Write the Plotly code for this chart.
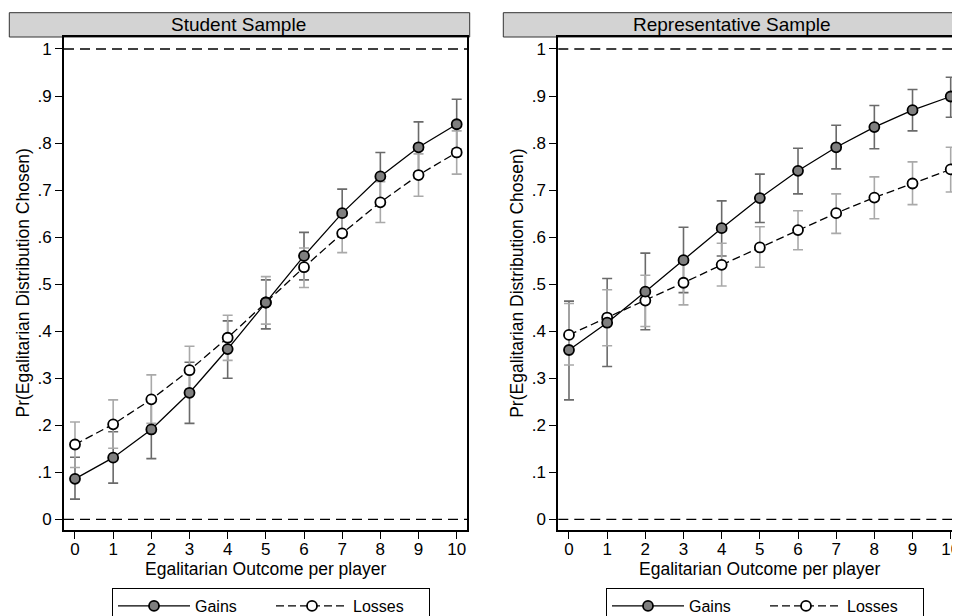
import plotly.graph_objects as go

# ---------------- data ----------------
outcome = [0, 1, 2, 3, 4, 5, 6, 7, 8, 9, 10]

panel_titles = ["Student Sample", "Representative Sample"]
series_names = ["Gains", "Losses"]

student_gains = [0.086, 0.131, 0.191, 0.269, 0.362, 0.461, 0.560, 0.651, 0.729, 0.791, 0.840]
student_gains_lo = [0.043, 0.077, 0.129, 0.204, 0.300, 0.405, 0.509, 0.601, 0.678, 0.737, 0.787]
student_gains_hi = [0.132, 0.186, 0.253, 0.334, 0.422, 0.509, 0.610, 0.702, 0.780, 0.845, 0.893]

student_losses = [0.159, 0.202, 0.255, 0.317, 0.386, 0.461, 0.536, 0.608, 0.674, 0.732, 0.780]
student_losses_lo = [0.110, 0.151, 0.204, 0.266, 0.338, 0.415, 0.493, 0.567, 0.631, 0.687, 0.734]
student_losses_hi = [0.207, 0.254, 0.307, 0.368, 0.434, 0.516, 0.577, 0.650, 0.718, 0.777, 0.826]

rep_gains = [0.360, 0.418, 0.484, 0.551, 0.619, 0.683, 0.741, 0.791, 0.834, 0.870, 0.899]
rep_gains_lo = [0.254, 0.325, 0.403, 0.482, 0.560, 0.631, 0.692, 0.745, 0.788, 0.826, 0.855]
rep_gains_hi = [0.464, 0.512, 0.566, 0.621, 0.677, 0.734, 0.789, 0.838, 0.880, 0.914, 0.940]

rep_losses = [0.392, 0.429, 0.465, 0.503, 0.541, 0.578, 0.615, 0.651, 0.684, 0.714, 0.744]
rep_losses_lo = [0.328, 0.369, 0.410, 0.456, 0.496, 0.536, 0.573, 0.608, 0.639, 0.669, 0.696]
rep_losses_hi = [0.459, 0.488, 0.519, 0.550, 0.587, 0.622, 0.656, 0.692, 0.728, 0.760, 0.791]

y_tickvals = [0, 0.1, 0.2, 0.3, 0.4, 0.5, 0.6, 0.7, 0.8, 0.9, 1]
y_ticktext = ["0", ".1", ".2", ".3", ".4", ".5", ".6", ".7", ".8", ".9", "1"]
x_tickvals = outcome
x_ticktext = [str(v) for v in outcome]

x_title = "Egalitarian Outcome per player"
y_title = "Pr(Egalitarian Distribution Chosen)"

# ---------------- layout geometry (page pixels) ----------------
OFF = 8  # default body margin of the html page
W, H = 960 - OFF, 616 - OFF
FONT = "Liberation Sans, Arial, Helvetica, sans-serif"


def px(x):
    return (x - OFF) / W


def py(y):
    return 1 - (y - OFF) / H


panels = [
    dict(gains=student_gains, glo=student_gains_lo, ghi=student_gains_hi,
         losses=student_losses, llo=student_losses_lo, lhi=student_losses_hi,
         x0=64.0, x1=467.0, xr=[-0.288, 10.27], hx0=9.3, hx1=466.7, lgx=112,
         xa="x", ya="y", legend="legend"),
    dict(gains=rep_gains, glo=rep_gains_lo, ghi=rep_gains_hi,
         losses=rep_losses, llo=rep_losses_lo, lhi=rep_losses_hi,
         x0=558.3, x1=960.0, xr=[-0.28, 10.244], hx0=503.3, hx1=961.0, lgx=606,
         xa="x2", ya="y2", legend="legend2"),
]

PLOT_TOP, PLOT_BOT = 37.0, 530.0
HDR_TOP = 12.7
YR = [-0.02275, 1.0255]

GAIN_CI = "#6a6a6a"
LOSS_CI = "#a9a9a9"

fig = go.Figure()

for i, p in enumerate(panels):
    # confidence intervals first
    for vals, lo, hi, col in [(p["gains"], p["glo"], p["ghi"], GAIN_CI),
                              (p["losses"], p["llo"], p["lhi"], LOSS_CI)]:
        fig.add_trace(go.Scatter(
            x=outcome, y=vals, mode="markers",
            marker=dict(size=1, opacity=0),
            error_y=dict(type="data", symmetric=False,
                         array=[h - v for h, v in zip(hi, vals)],
                         arrayminus=[v - l for v, l in zip(vals, lo)],
                         color=col, thickness=1.6, width=5),
            xaxis=p["xa"], yaxis=p["ya"], showlegend=False, hoverinfo="skip"))
    # losses line
    fig.add_trace(go.Scatter(
        x=outcome, y=p["losses"], mode="lines+markers", name=series_names[1],
        line=dict(color="black", width=1.3, dash="8px,4px"),
        marker=dict(size=10, color="white", line=dict(color="black", width=1.8)),
        xaxis=p["xa"], yaxis=p["ya"], legend=p["legend"], legendrank=2))
    # gains line
    fig.add_trace(go.Scatter(
        x=outcome, y=p["gains"], mode="lines+markers", name=series_names[0],
        line=dict(color="black", width=1.3),
        marker=dict(size=10, color="#7f7f7f", line=dict(color="black", width=1.8)),
        xaxis=p["xa"], yaxis=p["ya"], legend=p["legend"], legendrank=1))

axis_common = dict(showgrid=False, zeroline=False, showline=True, linecolor="black",
                   linewidth=2, ticks="outside", ticklen=7, tickwidth=1.2,
                   tickcolor="black", ticklabeloverflow="allow",
                   tickfont=dict(family=FONT, size=17, color="black"))

layout = dict(
    width=W, height=H, margin=dict(l=0, r=0, t=0, b=0, autoexpand=False),
    paper_bgcolor="white", plot_bgcolor="white",
    font=dict(family=FONT, color="black"),
)

shapes = []
annotations = []
for i, p in enumerate(panels):
    sfx = "" if i == 0 else "2"
    layout["xaxis" + sfx] = dict(axis_common, domain=[max(px(p["x0"]), 0), min(px(p["x1"]), 1)],
                                 range=p["xr"], tickvals=x_tickvals, ticktext=x_ticktext,
                                 anchor="y" + sfx, mirror=True, ticklabelstandoff=-4)
    layout["yaxis" + sfx] = dict(axis_common, domain=[py(PLOT_BOT), py(PLOT_TOP)],
                                 range=YR, tickvals=y_tickvals, ticktext=y_ticktext,
                                 anchor="x" + sfx, mirror=(i == 0))
    # header strip
    shapes.append(dict(type="rect", xref="paper", yref="paper",
                       x0=px(p["hx0"]), x1=px(p["hx1"] + 3),
                       y0=py(PLOT_TOP), y1=py(HDR_TOP),
                       fillcolor="#d3d3d3", line=dict(color="#333333", width=1), layer="below"))
    annotations.append(dict(xref="paper", yref="paper", x=px((p["hx0"] + p["hx1"]) / 2),
                            y=py((HDR_TOP + PLOT_TOP) / 2), text=panel_titles[i],
                            showarrow=False, xanchor="center", yanchor="middle",
                            font=dict(family=FONT, size=19, color="black")))
    # reference lines at 0 and 1
    for yv in (0, 1):
        shapes.append(dict(type="line", xref="x" + sfx + " domain", yref="y" + sfx,
                           x0=0, x1=1, y0=yv, y1=yv,
                           line=dict(color="black", width=1.3, dash="10px,6px")))
    # axis titles
    annotations.append(dict(xref="paper", yref="paper",
                            x=px((p["x0"] + p["hx1"]) / 2), y=py(568.5),
                            text=x_title, showarrow=False, xanchor="center", yanchor="middle",
                            font=dict(family=FONT, size=17.5, color="black")))
    annotations.append(dict(xref="paper", yref="paper",
                            x=px(p["x0"] - 42), y=py((PLOT_TOP + PLOT_BOT) / 2),
                            text=y_title, showarrow=False, textangle=-90,
                            xanchor="center", yanchor="middle",
                            font=dict(family=FONT, size=17.5, color="black")))
    layout[p["legend"]] = dict(orientation="h", x=px(p["lgx"]),
                               xanchor="left", y=py(588), yanchor="top",
                               bordercolor="black", borderwidth=1, bgcolor="white",
                               itemwidth=72, entrywidth=71, entrywidthmode="pixels",
                               font=dict(family=FONT, size=16, color="black"),
                               traceorder="normal")

layout["shapes"] = shapes
layout["annotations"] = annotations
fig.update_layout(**layout)

fig.write_html("out.html")
